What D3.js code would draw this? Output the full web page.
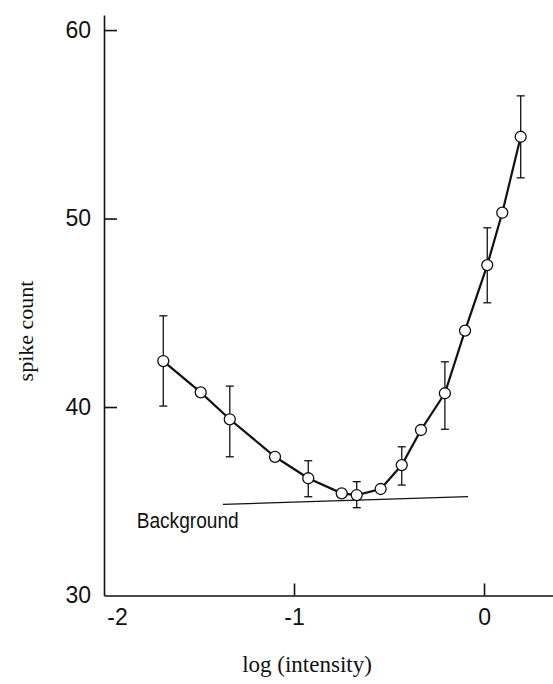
<!DOCTYPE html>
<html>
<head>
<meta charset="utf-8">
<script src="https://cdn.jsdelivr.net/npm/d3@7"></script>
<style>
    body { margin: 0; background: #fff; }
    svg { display: block; }
</style>
</head>
<body>
<div id="chart"></div>
<script>

// log (intensity) of each measured point
let logIntensity = [-1.688, -1.491, -1.338, -1.100, -0.925, -0.749, -0.670, -0.544, -0.433, -0.332, -0.206, -0.100, 0.017, 0.096, 0.193]
// mean spike count
let spikeCount = [42.44, 40.78, 39.35, 37.36, 36.22, 35.42, 35.33, 35.65, 36.92, 38.78, 40.73, 44.05, 47.53, 50.31, 54.34]
// error bar ends (null = no bar drawn)
let errLow = [40.05, null, 37.36, null, 35.24, null, 34.66, null, 35.86, null, 38.82, null, 45.53, null, 52.16]
let errHigh = [44.84, null, 41.11, null, 37.15, null, 36.04, null, 37.89, null, 42.40, null, 49.51, null, 56.51]

// background level line
let backgroundX = [-1.374, -0.084]
let backgroundY = [34.83, 35.25]

let xTicks = [-2, -1, 0]
let yTicks = [30, 40, 50, 60]

let margin = {top: 15, right: 0, bottom: 88.5, left: 104};
let width = 553 - margin.left - margin.right;
let height = 684 - margin.top - margin.bottom;

let svg = d3.select("#chart").append("svg")
    .attr("width", 553)
    .attr("height", 684)
    .append("g")
    .attr("transform", `translate(${margin.left}, ${margin.top})`);

// scales
let x = d3.scaleLinear()
    .domain([-2, 0.363])
    .range([0, width]);

let y = d3.scaleLinear()
    .domain([30, 60.8])
    .range([height, 0]);

// axes, ticks point inward
let xAxis = d3.axisBottom(x)
    .tickValues(xTicks)
    .tickSizeInner(-12)
    .tickSizeOuter(0)
    .tickPadding(13)
    .tickFormat(d => String(d));

let yAxis = d3.axisLeft(y)
    .tickValues(yTicks)
    .tickSizeInner(-13)
    .tickSizeOuter(0)
    .tickPadding(13)
    .tickFormat(d => String(d));

let gx = svg.append("g")
    .attr("transform", "translate(0," + height + ")")
    .call(xAxis);

let gy = svg.append("g")
    .call(yAxis);

[gx, gy].forEach(g => {
    g.select(".domain").attr("stroke", "#111").attr("stroke-width", 1.6);
    g.selectAll(".tick line").attr("stroke", "#111").attr("stroke-width", 1.6);
    g.selectAll(".tick text")
        .attr("fill", "#111")
        .attr("font-family", "'Liberation Sans', Arial, sans-serif")
        .attr("font-size", 23);
});

// no tick marks at the corner, -2 label nudged off the y axis
gx.selectAll(".tick").filter(d => d === -2).select("line").remove();
gx.selectAll(".tick").filter(d => d === -2).select("text").attr("dx", 13);
gy.selectAll(".tick").filter(d => d === 30).select("line").remove();

// background line
let bg = backgroundX.map((v, i) => ({x: v, y: backgroundY[i]}));
svg.append("path")
    .datum(bg)
    .attr("fill", "none")
    .attr("stroke", "#111")
    .attr("stroke-width", 1.3)
    .attr("d", d3.line().x(d => x(d.x)).y(d => y(d.y)));

svg.append("text")
    .attr("x", 136.7 - margin.left)
    .attr("y", 528.3 - margin.top)
    .attr("font-family", "'Liberation Sans', Arial, sans-serif")
    .attr("font-size", 22)
    .attr("fill", "#111")
    .attr("textLength", 102)
    .attr("lengthAdjust", "spacingAndGlyphs")
    .text("Background");

let data = logIntensity.map((v, i) => ({
    x: v, y: spikeCount[i], lo: errLow[i], hi: errHigh[i]
}));

// error bars
let bars = svg.append("g")
    .selectAll("g")
    .data(data.filter(d => d.lo !== null))
    .enter().append("g")
    .attr("stroke", "#111")
    .attr("stroke-width", 1.3);

bars.append("line")
    .attr("x1", d => x(d.x)).attr("x2", d => x(d.x))
    .attr("y1", d => y(d.lo)).attr("y2", d => y(d.hi));
bars.append("line")
    .attr("x1", d => x(d.x) - 4).attr("x2", d => x(d.x) + 4)
    .attr("y1", d => y(d.lo)).attr("y2", d => y(d.lo));
bars.append("line")
    .attr("x1", d => x(d.x) - 4).attr("x2", d => x(d.x) + 4)
    .attr("y1", d => y(d.hi)).attr("y2", d => y(d.hi));

// data line
svg.append("path")
    .datum(data)
    .attr("fill", "none")
    .attr("stroke", "#111")
    .attr("stroke-width", 2.2)
    .attr("d", d3.line().x(d => x(d.x)).y(d => y(d.y)));

// points
svg.append("g")
    .selectAll("circle")
    .data(data)
    .enter().append("circle")
    .attr("cx", d => x(d.x))
    .attr("cy", d => y(d.y))
    .attr("r", 5.5)
    .attr("fill", "#fff")
    .attr("stroke", "#111")
    .attr("stroke-width", 1.3);

// axis titles
svg.append("text")
    .attr("transform", `translate(${33 - margin.left}, ${331 - margin.top}) rotate(-90)`)
    .attr("text-anchor", "middle")
    .attr("font-family", "'Liberation Serif', 'Times New Roman', serif")
    .attr("font-size", 22)
    .attr("fill", "#111")
    .text("spike count");

svg.append("text")
    .attr("x", 307 - margin.left)
    .attr("y", 672 - margin.top)
    .attr("text-anchor", "middle")
    .attr("font-family", "'Liberation Serif', 'Times New Roman', serif")
    .attr("font-size", 23)
    .attr("fill", "#111")
    .text("log (intensity)");

</script>
</body>
</html>
